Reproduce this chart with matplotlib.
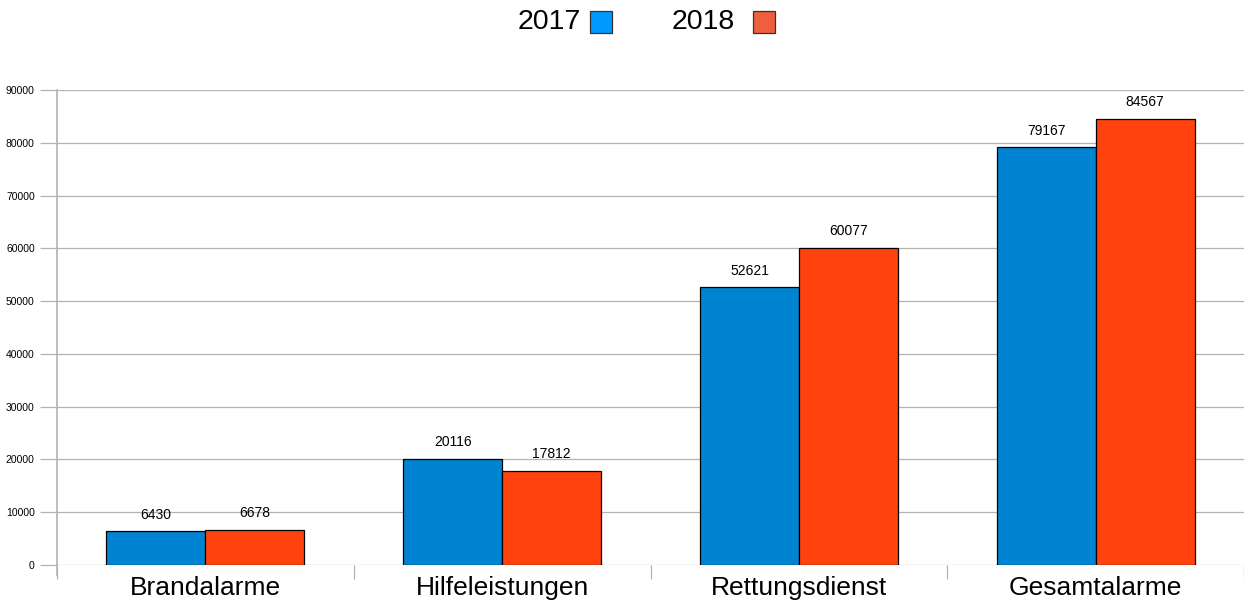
import matplotlib.pyplot as plt
import numpy as np
from matplotlib.patches import Rectangle

categories = ['Brandalarme', 'Hilfeleistungen', 'Rettungsdienst', 'Gesamtalarme']
years = ['2017', '2018']
values_2017 = [6430, 20116, 52621, 79167]
values_2018 = [6678, 17812, 60077, 84567]

bar_colors = ['#0084d1', '#ff420e']
legend_colors = ['#0099ff', '#ee5f3f']

W, H = 1244, 608
fig = plt.figure(figsize=(W / 100, H / 100), dpi=100)
ax = fig.add_axes([57 / W, 1 - 565 / H, (W - 57) / W, (565 - 90) / H])

x = np.arange(len(categories))
w = 1 / 3
b1 = ax.bar(x - w / 2, values_2017, w, color=bar_colors[0], edgecolor='black', linewidth=0.9, zorder=3)
b2 = ax.bar(x + w / 2, values_2018, w, color=bar_colors[1], edgecolor='black', linewidth=0.9, zorder=3)
for bars in (b1, b2):
    for r in bars:
        ax.text(r.get_x() + r.get_width() / 2, r.get_height() + 1800, str(int(r.get_height())),
                ha='center', va='bottom', fontsize=10, family='Liberation Sans')

ax.set_xlim(-0.5, len(categories) - 0.5)
ax.set_ylim(0, 90000)
ax.set_yticks(np.arange(0, 90001, 10000))
ax.set_yticklabels([str(v) for v in range(0, 90001, 10000)], fontsize=7.5, family='Liberation Sans')
ax.yaxis.grid(True, color='#b3b3b3', linewidth=0.9, zorder=0)
ax.tick_params(axis='y', length=12, color='#b3b3b3', width=0.9, pad=4)

# category labels between boundary ticks
ax.set_xticks(np.arange(-0.5, len(categories)), minor=False)
ax.set_xticklabels([])
ax.tick_params(axis='x', length=10, color='#b3b3b3', width=0.9)
ax.set_xticks(x, minor=True)
ax.set_xticklabels(categories, minor=True, fontsize=19, family='Liberation Sans')
ax.tick_params(axis='x', which='minor', length=0, pad=8)

for s in ['top', 'right', 'bottom']:
    ax.spines[s].set_visible(False)
ax.spines['left'].set_color('#b3b3b3')
ax.spines['left'].set_linewidth(1.2)
ax.plot([0, 0], [-0.022, 0], transform=ax.transAxes, color='#b3b3b3', lw=1.2, clip_on=False)

# legend at the top
items = [(518, 590), (672, 753)]
for (tx, sx), lab, col in zip(items, years, legend_colors):
    fig.text(tx / W, 1 - 22 / H, lab, fontsize=20.5, family='Liberation Sans', va='center', ha='left')
    fig.add_artist(Rectangle((sx / W, 1 - 33 / H), 22 / W, 22 / H, transform=fig.transFigure,
                             facecolor=col, edgecolor='#333333', linewidth=0.9))

fig.savefig('out.png', dpi=100)
